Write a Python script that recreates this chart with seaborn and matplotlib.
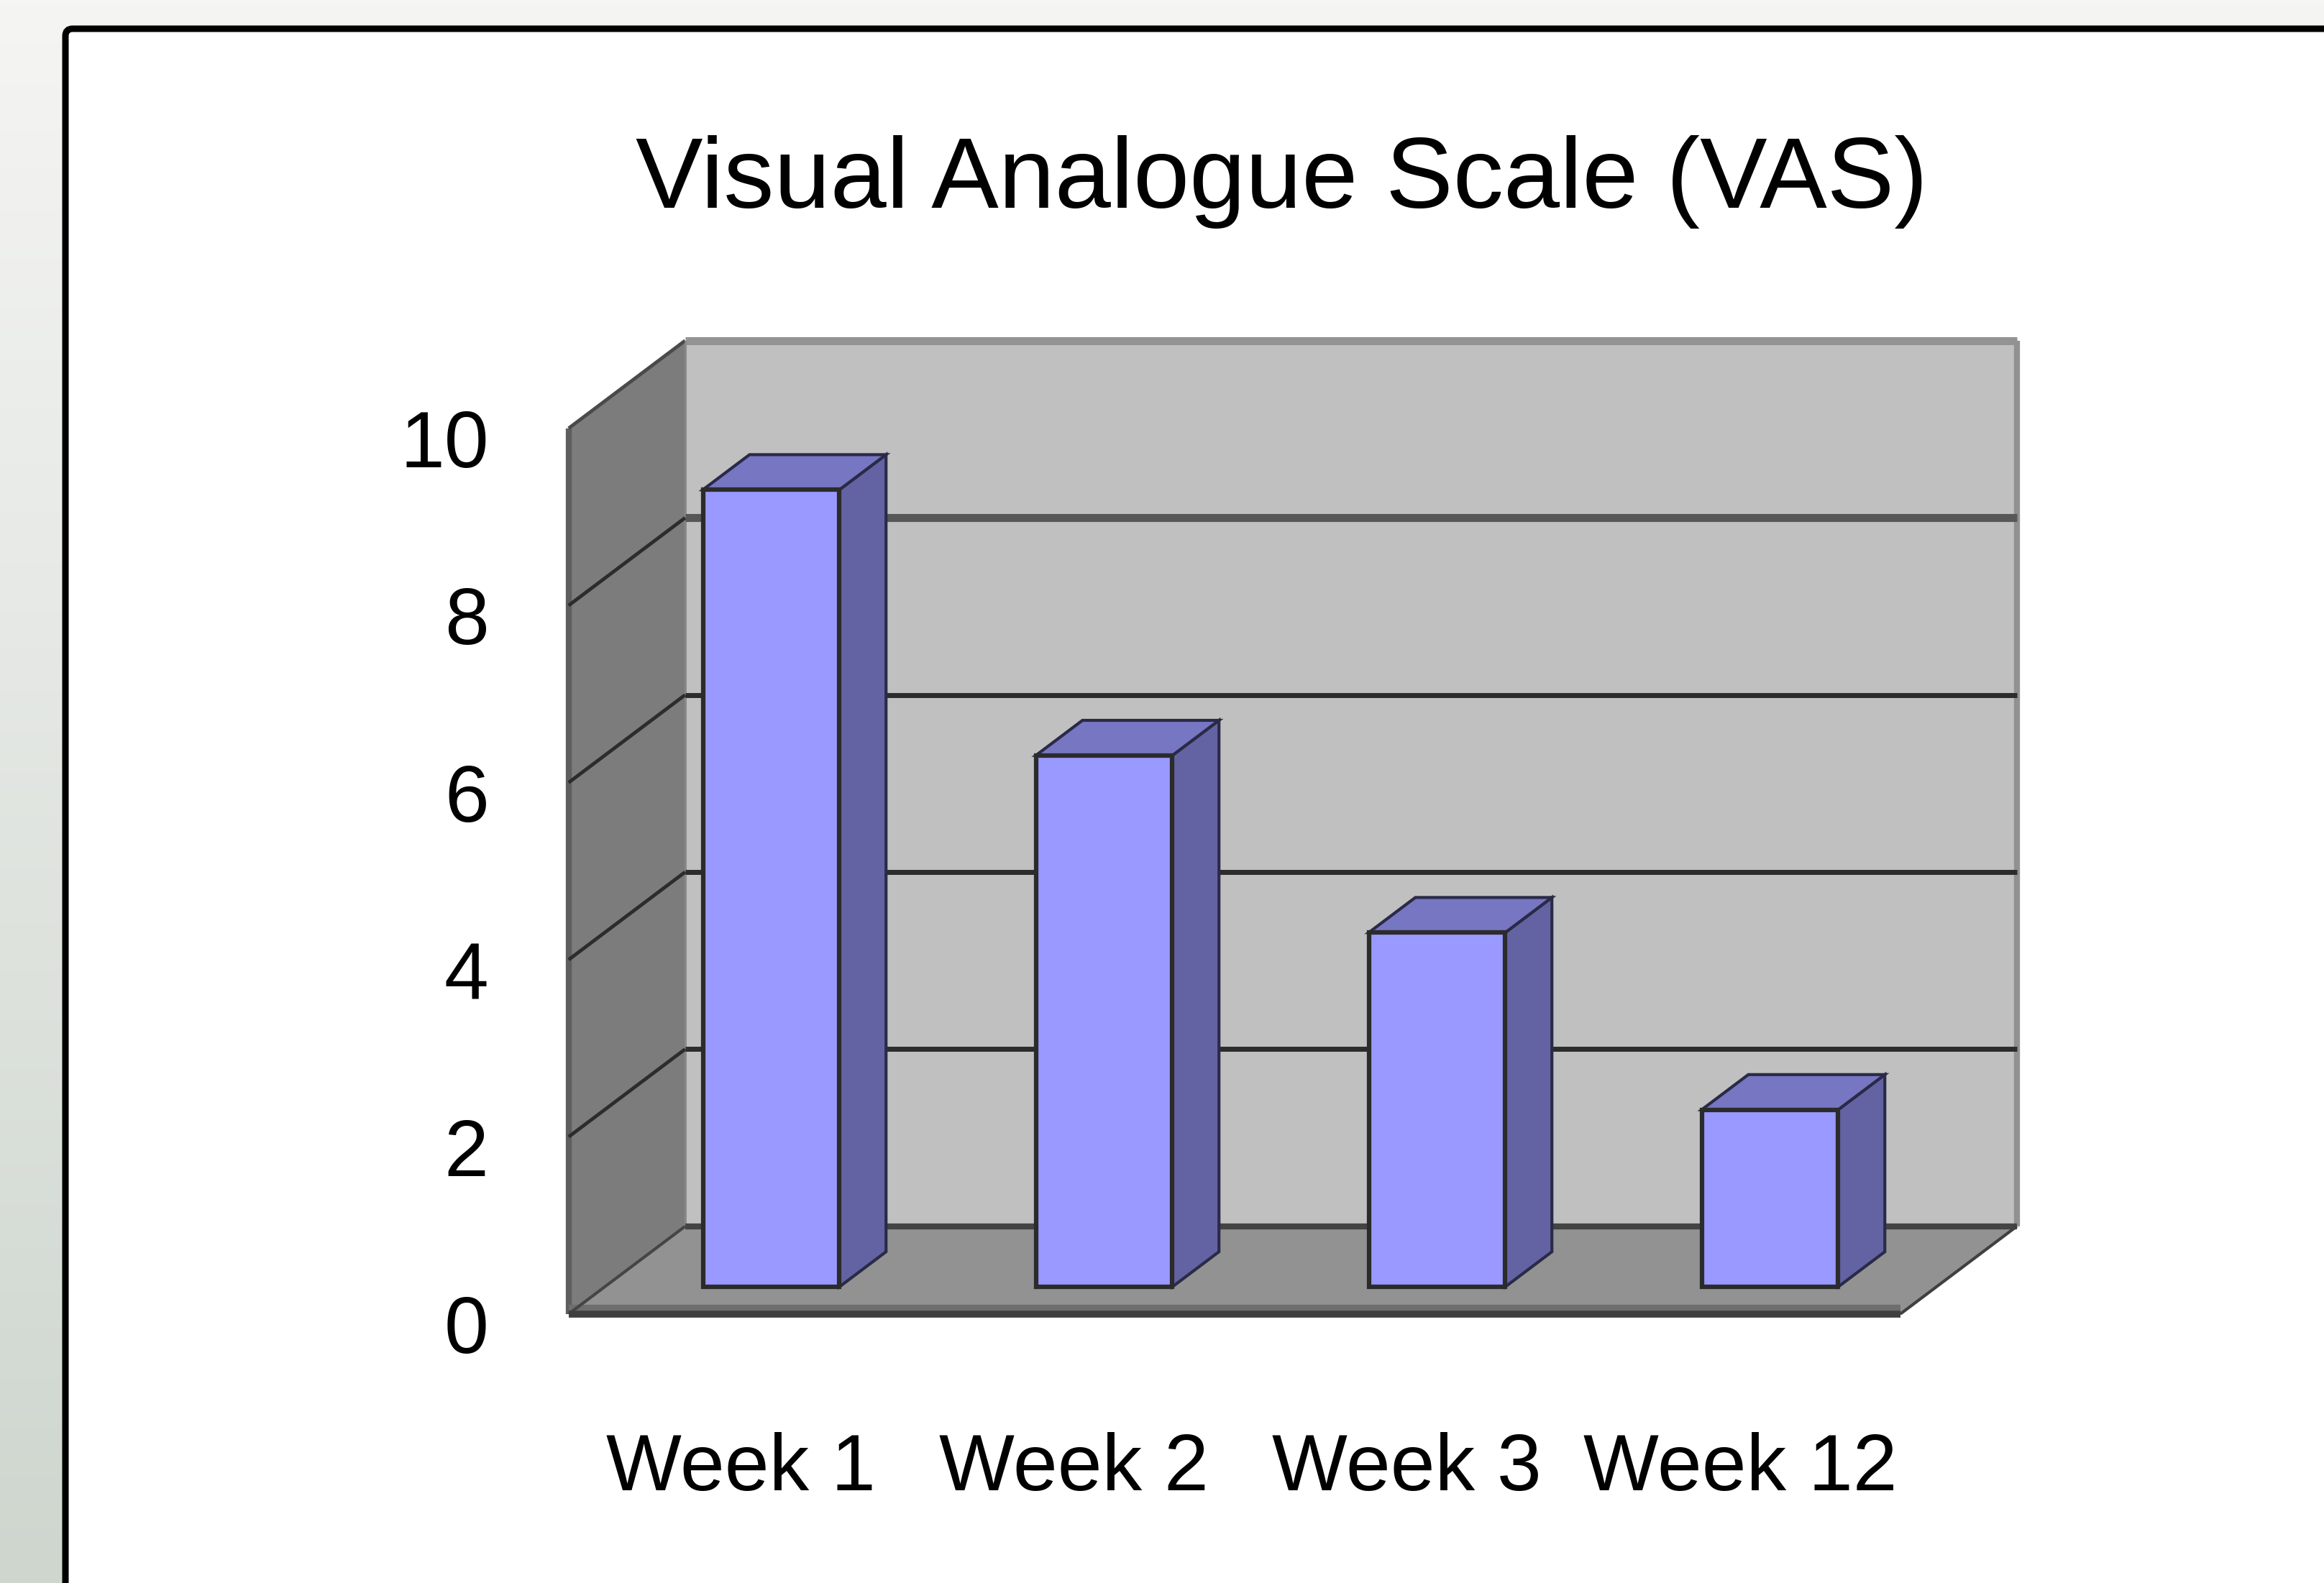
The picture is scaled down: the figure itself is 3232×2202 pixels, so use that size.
"""
Gráfico de barras 3D estilo Excel: escala visual analógica (VAS) por semana.
Las caras frontales salen de sns.barplot; los laterales, techos, paredes y
suelo se proyectan en oblicuo a partir de los mismos datos.
"""

import matplotlib

matplotlib.use("Agg")
import matplotlib.pyplot as plt
import numpy as np
import seaborn as sns
from matplotlib.patches import FancyBboxPatch, Polygon

semanas = ["Week 1", "Week 2", "Week 3", "Week 12"]
vas = [9, 6, 4, 2]
ticks_y = [0, 2, 4, 6, 8, 10]
titulo = "Visual Analogue Scale (VAS)"

ANCHO_PX, ALTO_PX, DPI = 3232, 2202, 100

# mapeo del plano frontal de las barras (pixeles de la imagen)
X0_PX = 1072.5      # centro de la primera barra
PASO_PX = 463.0     # pixeles por categoría
Y0_PX = 1790.0      # base de las barras (desde arriba)
UNIDAD_PX = 123.2   # pixeles por unidad de VAS

# profundidad oblicua (suelo completo), en unidades de datos
DX, DY = 0.35, 0.99
T_FRENTE, T_FONDO = -0.31, 0.69
T_BARRA = 0.40
ANCHO_BARRA = 0.41


def proyectar(x, y, t):
    return (x + t * DX, y + t * DY)


def poligono(ax, puntos, color, z, **kw):
    ax.add_patch(Polygon(puntos, closed=True, facecolor=color, zorder=z, **kw))


def linea(ax, a, b, color, lw, z):
    ax.plot([a[0], b[0]], [a[1], b[1]], color=color, lw=lw, zorder=z,
            solid_capstyle="butt")


plt.rcParams["font.family"] = ["Liberation Sans", "DejaVu Sans"]

fig = plt.figure(figsize=(ANCHO_PX / DPI, ALTO_PX / DPI), dpi=DPI)

# fondo: franja degradada + panel blanco con borde negro
fondo = fig.add_axes([0, 0, 1, 1])
grad = np.linspace(0, 1, 256)[:, None]
c_arriba = np.array([0xF5, 0xF5, 0xF4]) / 255
c_abajo = np.array([0xCE, 0xD6, 0xCE]) / 255
img = c_arriba[None, None, :] * (1 - grad[..., None]) + c_abajo[None, None, :] * grad[..., None]
fondo.imshow(img, extent=(0, ANCHO_PX, ALTO_PX, 0), aspect="auto")
fondo.add_patch(FancyBboxPatch((91, 40), ANCHO_PX, ALTO_PX,
                               boxstyle="round,pad=0,rounding_size=10",
                               facecolor="white", edgecolor="black", lw=6.5))
fondo.set_xlim(0, ANCHO_PX)
fondo.set_ylim(ALTO_PX, 0)
fondo.set_axis_off()

ax = fig.add_axes([0, 0, 1, 1])
sns.barplot(x=semanas, y=vas, color="#9999FF", saturation=1, width=ANCHO_BARRA,
            edgecolor="#2B2B2B", linewidth=4.5, ax=ax, zorder=6)
barras = list(ax.containers[0])

x_izq, x_der = -0.5, len(semanas) - 0.5
y_max = ticks_y[-1]

# pared del fondo
poligono(ax, [proyectar(x_izq, 0, T_FONDO), proyectar(x_der, 0, T_FONDO),
              proyectar(x_der, y_max, T_FONDO), proyectar(x_izq, y_max, T_FONDO)],
         "#C0C0C0", 1, edgecolor="none")
linea(ax, proyectar(x_izq, y_max, T_FONDO), proyectar(x_der, y_max, T_FONDO), "#939393", 8, 2)
linea(ax, proyectar(x_der, 0, T_FONDO), proyectar(x_der, y_max, T_FONDO), "#919191", 6, 2)

# pared izquierda
poligono(ax, [proyectar(x_izq, 0, T_FRENTE), proyectar(x_izq, 0, T_FONDO),
              proyectar(x_izq, y_max, T_FONDO), proyectar(x_izq, y_max, T_FRENTE)],
         "#7C7C7C", 1, edgecolor="none")
linea(ax, proyectar(x_izq, 0, T_FRENTE), proyectar(x_izq, y_max, T_FRENTE), "#5E5E5E", 6, 2)
linea(ax, proyectar(x_izq, y_max, T_FRENTE), proyectar(x_izq, y_max, T_FONDO), "#4A4A4A", 3.5, 2)
linea(ax, proyectar(x_izq, 0, T_FONDO), proyectar(x_izq, y_max, T_FONDO), "#888888", 2, 2)

# suelo
poligono(ax, [proyectar(x_izq, 0, T_FRENTE), proyectar(x_der, 0, T_FRENTE),
              proyectar(x_der, 0, T_FONDO), proyectar(x_izq, 0, T_FONDO)],
         "#929292", 1, edgecolor="none")
linea(ax, proyectar(x_izq, 0, T_FONDO), proyectar(x_der, 0, T_FONDO), "#444444", 6, 3)
linea(ax, proyectar(x_izq, 0, T_FRENTE), proyectar(x_izq, 0, T_FONDO), "#454545", 3, 3)
linea(ax, proyectar(x_der, 0, T_FRENTE), proyectar(x_der, 0, T_FONDO), "#404040", 3, 3)
borde = 0.07
linea(ax, proyectar(x_izq, borde, T_FRENTE), proyectar(x_der, borde, T_FRENTE), "#6E6E6E", 6, 2)
linea(ax, proyectar(x_izq, 0, T_FRENTE), proyectar(x_der, 0, T_FRENTE), "#3F3F3F", 7, 3)

# líneas de división (fondo y pared izquierda)
for v in ticks_y[1:-1]:
    if v == 8:
        color, lw = "#575757", 8
    else:
        color, lw = "#2C2C2C", 5
    linea(ax, proyectar(x_izq, v, T_FONDO), proyectar(x_der, v, T_FONDO), color, lw, 3)
    linea(ax, proyectar(x_izq, v, T_FRENTE), proyectar(x_izq, v, T_FONDO), "#2C2C2C", 3.5, 3)

# laterales y techos de cada barra
for r in barras:
    x, w, h = r.get_x(), r.get_width(), r.get_height()
    poligono(ax, [proyectar(x + w, 0, 0), proyectar(x + w, 0, T_BARRA),
                  proyectar(x + w, h, T_BARRA), proyectar(x + w, h, 0)],
             "#6363A3", 4, edgecolor="#2A2A48", lw=3)
    poligono(ax, [proyectar(x, h, 0), proyectar(x + w, h, 0),
                  proyectar(x + w, h, T_BARRA), proyectar(x, h, T_BARRA)],
             "#7676C2", 4, edgecolor="#2A2A48", lw=3)

# etiquetas
x_etq = x_izq + T_FRENTE * DX - 0.24
for v in ticks_y:
    ax.text(x_etq, v + T_FRENTE * DY - 0.44, str(v), ha="right", va="baseline",
            fontsize=80, color="black")
for i, s in enumerate(semanas):
    ax.text(i - 0.09, -2.30, s, ha="center", va="baseline", fontsize=80, color="black")

fig.text(1783 / ANCHO_PX, 1 - 289 / ALTO_PX, titulo, ha="center", va="baseline",
         fontsize=101, color="black")

ax.set_xlim(-X0_PX / PASO_PX, (ANCHO_PX - X0_PX) / PASO_PX)
ax.set_ylim(-(ALTO_PX - Y0_PX) / UNIDAD_PX, Y0_PX / UNIDAD_PX)
ax.set_axis_off()

fig.savefig("out.png", dpi=DPI)
